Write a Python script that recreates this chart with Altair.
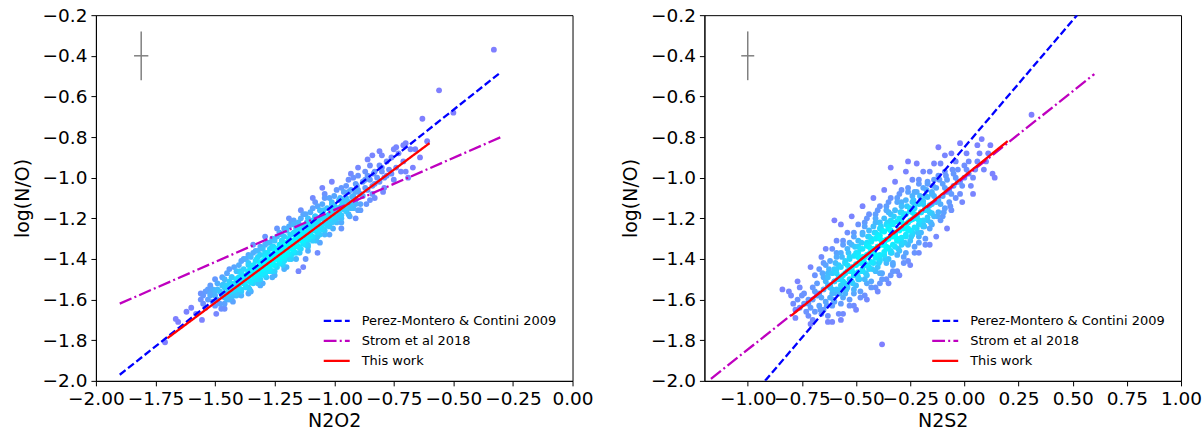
import altair as alt
import numpy as np
import pandas as pd

# ---------------- data ----------------
# left panel: N2O2 vs log(N/O)
LEFT_POINTS = [
    (-1.71, -1.81), (-1.665, -1.695), (-1.655, -1.71), (-1.555, -1.70), (-1.474, -1.645),
    (-1.62, -1.66), (-1.60, -1.64), (-1.58, -1.67), (-1.15, -1.46), (-1.13, -1.44),
    (-0.61, -0.82), (-0.63, -0.71), (-0.50, -0.68), (-0.56, -0.57), (-0.33, -0.37),
    (-1.56, -1.57), (-1.55, -1.58), (-1.54, -1.56), (-1.55, -1.62), (-1.53, -1.60),
    (-1.56, -1.60), (-1.54, -1.64), (-1.52, -1.58), (-1.53, -1.55),
    (-1.51, -1.55), (-1.50, -1.58), (-1.49, -1.60), (-1.52, -1.53), (-1.48, -1.56),
    (-1.50, -1.63), (-1.49, -1.52), (-1.51, -1.61), (-1.47, -1.58), (-1.50, -1.50),
    (-1.48, -1.62), (-1.52, -1.57), (-1.49, -1.55), (-1.47, -1.53),
    (-1.46, -1.50), (-1.45, -1.53), (-1.44, -1.55), (-1.46, -1.57), (-1.43, -1.49),
    (-1.45, -1.47), (-1.44, -1.60), (-1.42, -1.52), (-1.46, -1.54), (-1.43, -1.56),
    (-1.45, -1.58), (-1.44, -1.45), (-1.42, -1.58), (-1.47, -1.49), (-1.43, -1.53),
    (-1.41, -1.50), (-1.46, -1.62), (-1.44, -1.51),
    (-1.41, -1.46), (-1.40, -1.49), (-1.39, -1.51), (-1.41, -1.53), (-1.38, -1.45),
    (-1.40, -1.43), (-1.39, -1.56), (-1.37, -1.48), (-1.41, -1.50), (-1.38, -1.52),
    (-1.40, -1.55), (-1.39, -1.41), (-1.37, -1.54), (-1.42, -1.44), (-1.38, -1.49),
    (-1.36, -1.46), (-1.41, -1.58), (-1.39, -1.47), (-1.37, -1.51), (-1.40, -1.52),
    (-1.38, -1.40), (-1.36, -1.57),
    (-1.36, -1.42), (-1.35, -1.45), (-1.34, -1.47), (-1.36, -1.49), (-1.33, -1.41),
    (-1.35, -1.39), (-1.34, -1.52), (-1.32, -1.44), (-1.36, -1.46), (-1.33, -1.48),
    (-1.35, -1.51), (-1.34, -1.37), (-1.32, -1.50), (-1.37, -1.40), (-1.33, -1.45),
    (-1.31, -1.42), (-1.36, -1.54), (-1.34, -1.43), (-1.32, -1.47), (-1.35, -1.48),
    (-1.33, -1.36), (-1.31, -1.53), (-1.34, -1.33), (-1.36, -1.38), (-1.32, -1.39),
    (-1.35, -1.56),
    (-1.31, -1.38), (-1.30, -1.41), (-1.29, -1.43), (-1.31, -1.45), (-1.28, -1.37),
    (-1.30, -1.35), (-1.29, -1.48), (-1.27, -1.40), (-1.31, -1.42), (-1.28, -1.44),
    (-1.30, -1.47), (-1.29, -1.33), (-1.27, -1.46), (-1.32, -1.36), (-1.28, -1.41),
    (-1.26, -1.38), (-1.31, -1.50), (-1.29, -1.39), (-1.27, -1.43), (-1.30, -1.44),
    (-1.28, -1.32), (-1.26, -1.49), (-1.29, -1.29), (-1.31, -1.34), (-1.27, -1.35),
    (-1.30, -1.52), (-1.28, -1.46), (-1.26, -1.42),
    (-1.26, -1.34), (-1.25, -1.36), (-1.24, -1.39), (-1.26, -1.41), (-1.23, -1.33),
    (-1.25, -1.31), (-1.24, -1.44), (-1.22, -1.36), (-1.26, -1.38), (-1.23, -1.40),
    (-1.25, -1.43), (-1.24, -1.29), (-1.22, -1.42), (-1.27, -1.32), (-1.23, -1.37),
    (-1.21, -1.34), (-1.26, -1.46), (-1.24, -1.35), (-1.22, -1.39), (-1.25, -1.40),
    (-1.23, -1.27), (-1.21, -1.45), (-1.24, -1.25), (-1.26, -1.30), (-1.22, -1.31),
    (-1.25, -1.48), (-1.23, -1.42), (-1.21, -1.38),
    (-1.21, -1.29), (-1.20, -1.32), (-1.19, -1.34), (-1.21, -1.37), (-1.18, -1.28),
    (-1.20, -1.26), (-1.19, -1.40), (-1.17, -1.31), (-1.21, -1.33), (-1.18, -1.35),
    (-1.20, -1.38), (-1.19, -1.24), (-1.17, -1.37), (-1.22, -1.28), (-1.18, -1.32),
    (-1.16, -1.29), (-1.21, -1.41), (-1.19, -1.30), (-1.17, -1.34), (-1.20, -1.36),
    (-1.18, -1.22), (-1.16, -1.40), (-1.19, -1.20), (-1.21, -1.25), (-1.17, -1.27),
    (-1.20, -1.44), (-1.18, -1.38), (-1.16, -1.33),
    (-1.16, -1.25), (-1.15, -1.27), (-1.14, -1.30), (-1.16, -1.32), (-1.13, -1.24),
    (-1.15, -1.22), (-1.14, -1.35), (-1.12, -1.27), (-1.16, -1.29), (-1.13, -1.31),
    (-1.15, -1.34), (-1.14, -1.20), (-1.12, -1.33), (-1.17, -1.23), (-1.13, -1.28),
    (-1.11, -1.25), (-1.16, -1.37), (-1.14, -1.26), (-1.12, -1.30), (-1.15, -1.31),
    (-1.13, -1.18), (-1.11, -1.36), (-1.14, -1.16), (-1.12, -1.40), (-1.17, -1.21),
    (-1.11, -1.29),
    (-1.11, -1.20), (-1.10, -1.23), (-1.09, -1.25), (-1.11, -1.28), (-1.08, -1.19),
    (-1.10, -1.17), (-1.09, -1.31), (-1.07, -1.22), (-1.11, -1.24), (-1.08, -1.26),
    (-1.10, -1.29), (-1.09, -1.15), (-1.07, -1.29), (-1.12, -1.18), (-1.08, -1.23),
    (-1.06, -1.20), (-1.11, -1.33), (-1.09, -1.21), (-1.07, -1.26), (-1.10, -1.27),
    (-1.08, -1.12), (-1.06, -1.32), (-1.09, -1.10), (-1.07, -1.37),
    (-1.06, -1.16), (-1.05, -1.18), (-1.04, -1.21), (-1.06, -1.23), (-1.03, -1.15),
    (-1.05, -1.13), (-1.04, -1.26), (-1.02, -1.18), (-1.06, -1.20), (-1.03, -1.22),
    (-1.05, -1.25), (-1.04, -1.10), (-1.02, -1.24), (-1.07, -1.14), (-1.03, -1.19),
    (-1.01, -1.16), (-1.06, -1.28), (-1.04, -1.08), (-1.02, -1.28), (-1.05, -1.05),
    (-1.01, -1.12), (-1.00, -1.14), (-0.99, -1.17), (-1.01, -1.19), (-0.98, -1.11),
    (-1.00, -1.09), (-0.99, -1.22), (-0.97, -1.14), (-1.01, -1.16), (-0.98, -1.18),
    (-1.00, -1.21), (-0.99, -1.06), (-0.97, -1.20), (-1.02, -1.10), (-0.98, -1.15),
    (-0.96, -1.12), (-1.01, -1.02), (-0.97, -1.25),
    (-0.96, -1.07), (-0.95, -1.10), (-0.94, -1.12), (-0.96, -1.15), (-0.93, -1.06),
    (-0.95, -1.04), (-0.94, -1.18), (-0.92, -1.09), (-0.96, -1.11), (-0.93, -1.13),
    (-0.95, -1.16), (-0.94, -1.01), (-0.92, -1.15), (-0.97, -1.05), (-0.93, -0.98),
    (-0.91, -1.20),
    (-0.91, -1.03), (-0.90, -1.06), (-0.89, -1.08), (-0.91, -1.11), (-0.88, -1.02),
    (-0.90, -0.99), (-0.89, -1.13), (-0.87, -1.05), (-0.91, -1.07), (-0.88, -1.09),
    (-0.90, -0.95), (-0.89, -1.16), (-0.87, -0.97), (-0.92, -1.00),
    (-0.86, -0.99), (-0.85, -1.01), (-0.84, -1.04), (-0.86, -1.06), (-0.83, -0.97),
    (-0.85, -0.94), (-0.84, -1.08), (-0.82, -1.00), (-0.86, -0.91), (-0.83, -1.03),
    (-0.85, -1.11), (-0.84, -0.89),
    (-0.81, -0.94), (-0.80, -0.97), (-0.79, -1.00), (-0.81, -1.02), (-0.78, -0.92),
    (-0.80, -0.89), (-0.79, -1.05), (-0.77, -0.96), (-0.81, -0.87), (-0.78, -0.99),
    (-0.76, -0.90), (-0.75, -0.86), (-0.74, -0.95), (-0.76, -0.98), (-0.73, -0.88),
    (-0.75, -1.01), (-0.74, -0.85), (-0.72, -0.97),
    (-0.71, -0.84), (-0.70, -0.97), (-0.69, -1.00), (-0.71, -0.92), (-0.68, -0.86),
    (-0.70, -0.83), (-0.66, -0.86), (-0.64, -0.90), (-0.67, -0.95),
]
# dense core of the left cloud, lying along the fitted line
LEFT_CORE = [
    (-1.46, -1.59), (-1.45, -1.60), (-1.465, -1.57), (-1.44, -1.57), (-1.43, -1.585), (-1.445, -1.55),
    (-1.42, -1.555), (-1.41, -1.57), (-1.425, -1.535), (-1.40, -1.54), (-1.39, -1.55), (-1.405, -1.515),
    (-1.38, -1.52), (-1.37, -1.535), (-1.385, -1.50), (-1.36, -1.50), (-1.35, -1.515), (-1.365, -1.48),
    (-1.34, -1.485), (-1.33, -1.50), (-1.345, -1.465), (-1.32, -1.47), (-1.31, -1.48), (-1.325, -1.445),
    (-1.30, -1.45), (-1.29, -1.465), (-1.305, -1.43), (-1.28, -1.435), (-1.27, -1.445), (-1.285, -1.41),
    (-1.26, -1.415), (-1.25, -1.43), (-1.265, -1.395), (-1.24, -1.40), (-1.23, -1.41), (-1.245, -1.375),
    (-1.22, -1.38), (-1.21, -1.395), (-1.225, -1.36), (-1.20, -1.365), (-1.19, -1.375), (-1.205, -1.34),
    (-1.18, -1.345), (-1.17, -1.36), (-1.185, -1.325), (-1.16, -1.33), (-1.15, -1.34), (-1.165, -1.305),
    (-1.14, -1.31), (-1.13, -1.325), (-1.145, -1.29), (-1.12, -1.295), (-1.11, -1.305), (-1.125, -1.27),
    (-1.10, -1.275), (-1.09, -1.29), (-1.105, -1.255), (-1.08, -1.26), (-1.07, -1.27), (-1.085, -1.235),
    (-1.06, -1.24), (-1.05, -1.255), (-1.065, -1.22), (-1.04, -1.225), (-1.03, -1.235), (-1.045, -1.20),
    (-1.02, -1.205), (-1.01, -1.22), (-1.025, -1.185), (-1.00, -1.19), (-0.99, -1.20), (-1.005, -1.165),
    (-0.98, -1.17), (-0.97, -1.185), (-0.985, -1.15), (-0.96, -1.155), (-0.95, -1.165), (-0.965, -1.13),
    (-0.94, -1.135), (-0.93, -1.15), (-0.945, -1.115), (-0.92, -1.12), (-0.91, -1.13), (-0.925, -1.095),
]
# points filling the band on either side of the left core
LEFT_FILL = [
    (-1.50, -1.555), (-1.495, -1.67), (-1.465, -1.525), (-1.46, -1.645), (-1.43, -1.49), (-1.425, -1.61),
    (-1.395, -1.46), (-1.39, -1.58), (-1.36, -1.43), (-1.355, -1.55), (-1.325, -1.40), (-1.32, -1.52),
    (-1.29, -1.37), (-1.285, -1.49), (-1.255, -1.34), (-1.25, -1.46), (-1.22, -1.31), (-1.215, -1.43),
    (-1.185, -1.28), (-1.18, -1.40), (-1.15, -1.25), (-1.145, -1.37), (-1.115, -1.22), (-1.11, -1.34),
    (-1.08, -1.19), (-1.075, -1.31), (-1.045, -1.16), (-1.04, -1.28), (-1.01, -1.13), (-1.005, -1.25),
    (-0.975, -1.10), (-0.97, -1.22), (-0.94, -1.07), (-0.935, -1.19), (-0.905, -1.04), (-0.90, -1.16),
    (-0.87, -1.01), (-0.865, -1.13), (-0.835, -0.98), (-0.83, -1.10), (-0.80, -0.95), (-0.795, -1.07),
]

# right panel: N2S2 vs log(N/O)
RIGHT_POINTS = [
    (-0.02, -0.83), (0.08, -0.81), (-0.12, -0.85), (-0.26, -0.92), (-0.34, -0.95),
    (0.13, -0.98), (0.31, -0.69), (-0.38, -1.82), (-0.57, -1.70), (-0.84, -1.55),
    (-0.70, -1.70), (-0.78, -1.69), (0.14, -1.00), (-0.60, -1.21),
    (-0.80, -1.58), (-0.79, -1.62), (-0.81, -1.56), (-0.78, -1.65), (-0.77, -1.60),
    (-0.75, -1.58), (-0.74, -1.62), (-0.76, -1.54), (-0.73, -1.66), (-0.77, -1.51),
    (-0.74, -1.57), (-0.72, -1.60), (-0.76, -1.64),
    (-0.70, -1.60), (-0.69, -1.56), (-0.71, -1.64), (-0.68, -1.52), (-0.72, -1.68),
    (-0.69, -1.48), (-0.71, -1.72), (-0.68, -1.58), (-0.72, -1.62), (-0.70, -1.54),
    (-0.69, -1.66), (-0.71, -1.44),
    (-0.65, -1.55), (-0.64, -1.51), (-0.66, -1.59), (-0.63, -1.47), (-0.67, -1.63),
    (-0.64, -1.43), (-0.66, -1.67), (-0.63, -1.53), (-0.67, -1.57), (-0.65, -1.49),
    (-0.64, -1.61), (-0.66, -1.39), (-0.63, -1.71), (-0.67, -1.45), (-0.65, -1.65),
    (-0.64, -1.35),
    (-0.60, -1.51), (-0.59, -1.47), (-0.61, -1.55), (-0.58, -1.43), (-0.62, -1.59),
    (-0.59, -1.39), (-0.61, -1.63), (-0.58, -1.49), (-0.62, -1.53), (-0.60, -1.45),
    (-0.59, -1.57), (-0.61, -1.35), (-0.58, -1.67), (-0.62, -1.41), (-0.60, -1.61),
    (-0.59, -1.31), (-0.61, -1.71), (-0.58, -1.50), (-0.62, -1.54), (-0.60, -1.46),
    (-0.55, -1.47), (-0.54, -1.43), (-0.56, -1.51), (-0.53, -1.39), (-0.57, -1.55),
    (-0.54, -1.35), (-0.56, -1.59), (-0.53, -1.45), (-0.57, -1.49), (-0.55, -1.41),
    (-0.54, -1.53), (-0.56, -1.31), (-0.53, -1.63), (-0.57, -1.37), (-0.55, -1.57),
    (-0.54, -1.27), (-0.56, -1.67), (-0.53, -1.46), (-0.57, -1.50), (-0.55, -1.42),
    (-0.54, -1.54), (-0.56, -1.33), (-0.53, -1.60), (-0.57, -1.23),
    (-0.50, -1.43), (-0.49, -1.39), (-0.51, -1.47), (-0.48, -1.35), (-0.52, -1.51),
    (-0.49, -1.31), (-0.51, -1.55), (-0.48, -1.41), (-0.52, -1.45), (-0.50, -1.37),
    (-0.49, -1.49), (-0.51, -1.27), (-0.48, -1.59), (-0.52, -1.33), (-0.50, -1.53),
    (-0.49, -1.23), (-0.51, -1.63), (-0.48, -1.42), (-0.52, -1.46), (-0.50, -1.38),
    (-0.49, -1.50), (-0.51, -1.29), (-0.48, -1.56), (-0.52, -1.19), (-0.50, -1.65),
    (-0.49, -1.34), (-0.51, -1.48), (-0.48, -1.40),
    (-0.45, -1.38), (-0.44, -1.34), (-0.46, -1.42), (-0.43, -1.30), (-0.47, -1.46),
    (-0.44, -1.26), (-0.46, -1.50), (-0.43, -1.36), (-0.47, -1.40), (-0.45, -1.32),
    (-0.44, -1.44), (-0.46, -1.22), (-0.43, -1.54), (-0.47, -1.28), (-0.45, -1.48),
    (-0.44, -1.18), (-0.46, -1.58), (-0.43, -1.37), (-0.47, -1.41), (-0.45, -1.33),
    (-0.44, -1.45), (-0.46, -1.24), (-0.43, -1.51), (-0.47, -1.14), (-0.45, -1.60),
    (-0.44, -1.29), (-0.46, -1.43), (-0.43, -1.35), (-0.47, -1.39), (-0.45, -1.20),
    (-0.40, -1.34), (-0.39, -1.30), (-0.41, -1.38), (-0.38, -1.26), (-0.42, -1.42),
    (-0.39, -1.22), (-0.41, -1.46), (-0.38, -1.32), (-0.42, -1.36), (-0.40, -1.28),
    (-0.39, -1.40), (-0.41, -1.18), (-0.38, -1.50), (-0.42, -1.24), (-0.40, -1.44),
    (-0.39, -1.14), (-0.41, -1.54), (-0.38, -1.33), (-0.42, -1.37), (-0.40, -1.29),
    (-0.39, -1.41), (-0.41, -1.20), (-0.38, -1.47), (-0.42, -1.10), (-0.40, -1.56),
    (-0.39, -1.25), (-0.41, -1.39), (-0.38, -1.31), (-0.42, -1.35), (-0.40, -1.16),
    (-0.39, -1.52), (-0.41, -1.27),
    (-0.35, -1.30), (-0.34, -1.26), (-0.36, -1.34), (-0.33, -1.22), (-0.37, -1.38),
    (-0.34, -1.18), (-0.36, -1.42), (-0.33, -1.28), (-0.37, -1.32), (-0.35, -1.24),
    (-0.34, -1.36), (-0.36, -1.14), (-0.33, -1.46), (-0.37, -1.20), (-0.35, -1.40),
    (-0.34, -1.10), (-0.36, -1.50), (-0.33, -1.29), (-0.37, -1.33), (-0.35, -1.25),
    (-0.34, -1.37), (-0.36, -1.16), (-0.33, -1.43), (-0.37, -1.06), (-0.35, -1.52),
    (-0.34, -1.21), (-0.36, -1.35), (-0.33, -1.27), (-0.37, -1.31), (-0.35, -1.12),
    (-0.34, -1.48), (-0.36, -1.23),
    (-0.30, -1.26), (-0.29, -1.22), (-0.31, -1.30), (-0.28, -1.18), (-0.32, -1.34),
    (-0.29, -1.14), (-0.31, -1.38), (-0.28, -1.24), (-0.32, -1.28), (-0.30, -1.20),
    (-0.29, -1.32), (-0.31, -1.10), (-0.28, -1.42), (-0.32, -1.16), (-0.30, -1.36),
    (-0.29, -1.06), (-0.31, -1.46), (-0.28, -1.25), (-0.32, -1.29), (-0.30, -1.21),
    (-0.29, -1.33), (-0.31, -1.12), (-0.28, -1.39), (-0.32, -1.02), (-0.30, -1.48),
    (-0.29, -1.17), (-0.31, -1.31), (-0.28, -1.23), (-0.32, -1.27), (-0.30, -1.08),
    (-0.25, -1.21), (-0.24, -1.17), (-0.26, -1.25), (-0.23, -1.13), (-0.27, -1.29),
    (-0.24, -1.09), (-0.26, -1.33), (-0.23, -1.19), (-0.27, -1.23), (-0.25, -1.15),
    (-0.24, -1.27), (-0.26, -1.05), (-0.23, -1.37), (-0.27, -1.11), (-0.25, -1.31),
    (-0.24, -1.01), (-0.26, -1.41), (-0.23, -1.20), (-0.27, -1.24), (-0.25, -1.16),
    (-0.24, -1.28), (-0.26, -1.07), (-0.23, -1.34), (-0.27, -0.97), (-0.25, -1.43),
    (-0.24, -1.12), (-0.26, -1.26), (-0.23, -1.18),
    (-0.20, -1.17), (-0.19, -1.13), (-0.21, -1.21), (-0.18, -1.09), (-0.22, -1.25),
    (-0.19, -1.05), (-0.21, -1.29), (-0.18, -1.15), (-0.22, -1.19), (-0.20, -1.11),
    (-0.19, -1.23), (-0.21, -1.01), (-0.18, -1.33), (-0.22, -1.07), (-0.20, -1.27),
    (-0.19, -0.97), (-0.21, -1.37), (-0.18, -1.16), (-0.22, -1.20), (-0.20, -1.12),
    (-0.19, -1.24), (-0.21, -1.03), (-0.18, -1.30), (-0.22, -0.93),
    (-0.15, -1.13), (-0.14, -1.09), (-0.16, -1.17), (-0.13, -1.05), (-0.17, -1.21),
    (-0.14, -1.01), (-0.16, -1.25), (-0.13, -1.11), (-0.17, -1.15), (-0.15, -1.07),
    (-0.14, -1.19), (-0.16, -0.97), (-0.13, -1.29), (-0.17, -1.03), (-0.15, -1.23),
    (-0.14, -0.93), (-0.16, -1.33), (-0.13, -1.12), (-0.17, -1.16), (-0.15, -1.08),
    (-0.10, -1.09), (-0.09, -1.05), (-0.11, -1.13), (-0.08, -1.01), (-0.12, -1.17),
    (-0.09, -0.97), (-0.11, -1.21), (-0.08, -1.07), (-0.12, -1.11), (-0.10, -1.03),
    (-0.09, -1.15), (-0.11, -0.93), (-0.08, -1.25), (-0.12, -0.99), (-0.10, -1.19),
    (-0.09, -0.89),
    (-0.05, -1.04), (-0.04, -1.00), (-0.06, -1.08), (-0.03, -0.96), (-0.07, -1.12),
    (-0.04, -0.92), (-0.06, -1.16), (-0.03, -1.02), (-0.07, -1.06), (-0.05, -0.98),
    (-0.04, -1.10), (-0.06, -0.88),
    (0.00, -1.00), (0.01, -0.96), (-0.01, -1.04), (0.02, -0.92), (-0.02, -1.08),
    (0.01, -0.88), (-0.01, -1.12), (0.02, -0.98), (-0.02, -1.02), (0.00, -0.94),
    (0.05, -0.96), (0.06, -0.92), (0.04, -1.00), (0.07, -0.88), (0.03, -1.04),
    (0.06, -0.84), (0.04, -1.08),
    (0.10, -0.92), (0.11, -0.88), (0.09, -0.96), (0.12, -0.84),
]
# dense core of the right cloud, along the fitted line
RIGHT_CORE = [
    (-0.62, -1.53), (-0.61, -1.57), (-0.63, -1.49), (-0.60, -1.51), (-0.59, -1.55), (-0.61, -1.47),
    (-0.58, -1.49), (-0.57, -1.53), (-0.59, -1.45), (-0.56, -1.48), (-0.55, -1.52), (-0.57, -1.44),
    (-0.54, -1.46), (-0.53, -1.50), (-0.55, -1.42), (-0.52, -1.44), (-0.51, -1.48), (-0.53, -1.40),
    (-0.50, -1.425), (-0.49, -1.465), (-0.51, -1.385), (-0.48, -1.41), (-0.47, -1.45), (-0.49, -1.37),
    (-0.46, -1.39), (-0.45, -1.43), (-0.47, -1.35), (-0.44, -1.375), (-0.43, -1.415), (-0.45, -1.335),
    (-0.42, -1.355), (-0.41, -1.395), (-0.43, -1.315), (-0.40, -1.34), (-0.39, -1.38), (-0.41, -1.30),
    (-0.38, -1.325), (-0.37, -1.365), (-0.39, -1.285), (-0.36, -1.305), (-0.35, -1.345), (-0.37, -1.265),
    (-0.34, -1.29), (-0.33, -1.33), (-0.35, -1.25), (-0.32, -1.27), (-0.31, -1.31), (-0.33, -1.23),
    (-0.30, -1.255), (-0.29, -1.295), (-0.31, -1.215), (-0.28, -1.24), (-0.27, -1.28), (-0.29, -1.20),
    (-0.26, -1.22), (-0.25, -1.26), (-0.27, -1.18), (-0.24, -1.205), (-0.23, -1.245), (-0.25, -1.165),
    (-0.22, -1.19), (-0.21, -1.23), (-0.23, -1.15), (-0.20, -1.17), (-0.19, -1.21), (-0.21, -1.13),
    (-0.18, -1.155), (-0.17, -1.195), (-0.19, -1.115), (-0.16, -1.135), (-0.15, -1.175), (-0.17, -1.095),
]
# points filling the outer parts of the right cloud
RIGHT_FILL = [
    (-0.655, -1.47), (-0.665, -1.65), (-0.65, -1.42), (-0.625, -1.45), (-0.635, -1.63),
    (-0.595, -1.42), (-0.605, -1.60), (-0.59, -1.37), (-0.565, -1.39), (-0.575, -1.57),
    (-0.535, -1.37), (-0.545, -1.55), (-0.53, -1.32), (-0.505, -1.34), (-0.515, -1.52),
    (-0.475, -1.32), (-0.485, -1.50), (-0.47, -1.27), (-0.445, -1.29), (-0.455, -1.47),
    (-0.415, -1.27), (-0.425, -1.45), (-0.41, -1.22), (-0.385, -1.24), (-0.395, -1.42),
    (-0.355, -1.22), (-0.365, -1.40), (-0.35, -1.17), (-0.325, -1.19), (-0.335, -1.37),
    (-0.295, -1.17), (-0.305, -1.35), (-0.29, -1.12), (-0.265, -1.14), (-0.275, -1.32),
    (-0.235, -1.11), (-0.245, -1.29), (-0.23, -1.07), (-0.205, -1.09), (-0.215, -1.27),
    (-0.175, -1.06), (-0.185, -1.24), (-0.17, -1.02), (-0.145, -1.04), (-0.155, -1.22),
    (-0.115, -1.01), (-0.125, -1.19), (-0.085, -0.99), (-0.095, -1.17), (-0.055, -0.96),
    (-0.065, -1.14),
    (-0.63, -1.68), (-0.57, -1.62), (-0.51, -1.57), (-0.45, -1.52), (-0.39, -1.47),
    (-0.33, -1.42), (-0.27, -1.37), (-0.21, -1.32),
]

SERIES = ["Perez-Montero & Contini 2009", "Strom et al 2018", "This work"]
# line end points (x0, x1), (y0, y1)
LEFT_LINE_X = [(-1.90, -0.30), (-1.90, -0.30), (-1.70, -0.60)]
LEFT_LINE_Y = [(-1.97, -0.48), (-1.62, -0.80), (-1.79, -0.83)]
RIGHT_LINE_X = [(-0.92, 0.52), (-1.17, 0.60), (-0.80, 0.20)]
RIGHT_LINE_Y = [(-2.00, -0.20), (-1.99, -0.49), (-1.68, -0.82)]

# typical error bar: x, y, xerr, yerr
LEFT_ERR = [-1.81, -0.40, 0.03, 0.12]
RIGHT_ERR = [-1.00, -0.40, 0.03, 0.12]

LEFT_XTICKS = [-2.0, -1.75, -1.5, -1.25, -1.0, -0.75, -0.5, -0.25, 0.0]
RIGHT_XTICKS = [-1.0, -0.75, -0.5, -0.25, 0.0, 0.25, 0.5, 0.75, 1.0]
YTICKS = [-2.0, -1.8, -1.6, -1.4, -1.2, -1.0, -0.8, -0.6, -0.4, -0.2]

# ---------------- styling ----------------
COLORS = ["#0000ff", "#bf00bf", "#ff0000"]
DASHES = [[7.4, 3.2], [12.8, 3.2, 2, 3.2], [1, 0]]
FONT = "DejaVu Sans"
W, H = 477, 366


def density(df, hx, hy):
    x = df["x"].to_numpy()
    y = df["y"].to_numpy()
    dx = (x[:, None] - x[None, :]) / hx
    dy = (y[:, None] - y[None, :]) / hy
    return np.exp(-0.5 * (dx ** 2 + dy ** 2)).sum(axis=1)


def panel(points, line_x, line_y, err, xdom, xticks, xtitle):
    pts = pd.DataFrame(points, columns=["x", "y"])
    d = density(pts, 0.05, 0.04)
    pts["dens"] = ((d - d.min()) / (d.max() - d.min())) ** 1.4

    xenc = alt.X(
        "x:Q",
        scale=alt.Scale(domain=xdom, nice=False, zero=False),
        axis=alt.Axis(
            values=xticks,
            title=xtitle,
            labelExpr="replace(format(datum.value, '.2f'), '-', '\u2212')",
        ),
    )
    yenc = alt.Y(
        "y:Q",
        scale=alt.Scale(domain=[-2.0, -0.2], nice=False, zero=False),
        axis=alt.Axis(
            values=YTICKS,
            title="log(N/O)",
            labelExpr="replace(format(datum.value, '.1f'), '-', '\u2212')",
        ),
    )

    layers = [
        alt.Chart(pts)
        .mark_circle(size=34, opacity=1)
        .encode(
            x=xenc,
            y=yenc,
            color=alt.Color(
                "dens:Q",
                scale=alt.Scale(domain=[0, 1], range=["#7f7fff", "#00ffff"], interpolate="rgb"),
                legend=None,
            ),
            order=alt.Order("dens:Q"),
        )
    ]

    for i, name in enumerate(SERIES):
        ldf = pd.DataFrame({"x": list(line_x[i]), "y": list(line_y[i])})
        layers.append(
            alt.Chart(ldf)
            .mark_line(color=COLORS[i], strokeDash=DASHES[i], strokeWidth=2.3, clip=True)
            .encode(x="x:Q", y="y:Q")
        )

    edf = pd.DataFrame({"x": [err[0]], "y": [err[1]]})
    edf["xlo"] = edf["x"] - err[2]
    edf["xhi"] = edf["x"] + err[2]
    edf["ylo"] = edf["y"] - err[3]
    edf["yhi"] = edf["y"] + err[3]
    layers.append(
        alt.Chart(edf).mark_rule(color="#808080", strokeWidth=1.5)
        .encode(x="xlo:Q", x2="xhi:Q", y="y:Q")
    )
    layers.append(
        alt.Chart(edf).mark_rule(color="#808080", strokeWidth=1.5)
        .encode(x="x:Q", y="ylo:Q", y2="yhi:Q")
    )

    # legend (lower right, inside the axes)
    for i, name in enumerate(SERIES):
        ndf = pd.DataFrame({"name": [name]})
        ypos = 306 + 20 * i
        layers.append(
            alt.Chart(ndf)
            .mark_rule(color=COLORS[i], strokeDash=DASHES[i], strokeWidth=2.3)
            .encode(x=alt.value(228), x2=alt.value(254), y=alt.value(ypos))
        )
        layers.append(
            alt.Chart(ndf)
            .mark_text(align="left", baseline="middle", fontSize=13, font=FONT, color="#000000")
            .encode(x=alt.value(266), y=alt.value(ypos), text="name:N")
        )

    return alt.layer(*layers).properties(width=W, height=H)


left = panel(LEFT_POINTS + LEFT_CORE + LEFT_FILL, LEFT_LINE_X, LEFT_LINE_Y, LEFT_ERR,
             [-2.0, 0.0], LEFT_XTICKS, "N2O2")
right = panel(RIGHT_POINTS + RIGHT_CORE + RIGHT_FILL, RIGHT_LINE_X, RIGHT_LINE_Y, RIGHT_ERR,
              [-1.2, 1.0], RIGHT_XTICKS, "N2S2")

chart = (
    alt.hconcat(left, right, spacing=132, bounds="flush")
    .properties(padding={"left": 12, "top": 5, "right": 0, "bottom": 0})
    .configure_view(stroke="black", strokeWidth=1)
    .configure_axis(
        grid=False,
        domainColor="black",
        tickColor="black",
        labelColor="black",
        titleColor="black",
        labelFont=FONT,
        titleFont=FONT,
        labelFontSize=18.5,
        titleFontSize=19,
        titleFontWeight="normal",
        tickSize=5,
        labelPadding=4,
        labelOverlap=False,
        labelFlush=False,
    )
    .configure_axisY(titlePadding=10)
    .configure_axisX(titlePadding=3)
)

chart.save("out.html", embed_options={"renderer": "svg", "actions": False})
